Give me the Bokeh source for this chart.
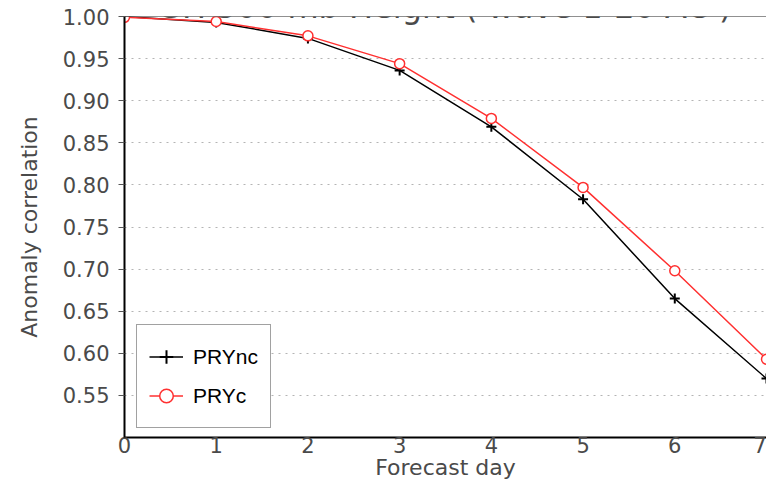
from bokeh.plotting import figure
from bokeh.models import (Range1d, FixedTicker, PrintfTickFormatter, Legend,
                          LegendItem, Label, Span)
from bokeh.embed import file_html
from bokeh.resources import INLINE

# Forecast skill, SH 500 mb height anomaly correlation
days = [0, 1, 2, 3, 4, 5, 6, 7]
pry_nc = [1.000, 0.993, 0.974, 0.936, 0.869, 0.783, 0.665, 0.570]
pry_c = [0.999, 0.994, 0.977, 0.944, 0.879, 0.797, 0.698, 0.593]

x_ticks = [0, 1, 2, 3, 4, 5, 6, 7]
y_ticks = [0.55, 0.60, 0.65, 0.70, 0.75, 0.80, 0.85, 0.90, 0.95, 1.00]
title_text = "SH 500 mb Height ( wave 1-20 AC )"

RED = "#ff3030"
TEXT = "#4a4a4a"
FONT = "DejaVu Sans"

p = figure(width=766, height=483, output_backend="svg", toolbar_location=None,
           x_range=Range1d(0, 7), y_range=Range1d(0.5, 1.0),
           min_border_left=124, min_border_right=0,
           min_border_top=16, min_border_bottom=46)
p.outline_line_color = None
p.background_fill_color = "white"
p.border_fill_color = "white"

# axes
xa = p.xaxis[0]
xa.ticker = FixedTicker(ticks=x_ticks)
xa.axis_line_color = "black"
xa.axis_line_width = 2
xa.major_tick_line_color = None
xa.minor_tick_line_color = None
xa.major_label_text_font = FONT
xa.major_label_text_font_size = "21px"
xa.major_label_text_color = TEXT
xa.major_label_standoff = -7
xa.axis_label = "Forecast day"
xa.axis_label_text_font = FONT
xa.axis_label_text_font_size = "22px"
xa.axis_label_text_font_style = "normal"
xa.axis_label_text_color = TEXT
xa.axis_label_standoff = -1

ya = p.yaxis[0]
ya.ticker = FixedTicker(ticks=y_ticks)
ya.formatter = PrintfTickFormatter(format="%.2f")
ya.axis_line_color = "black"
ya.axis_line_width = 2
ya.major_tick_line_color = "#555555"
ya.major_tick_in = 0
ya.major_tick_out = 6
ya.minor_tick_line_color = None
ya.major_label_text_font = FONT
ya.major_label_text_font_size = "21px"
ya.major_label_text_color = TEXT
ya.major_label_standoff = 9
ya.axis_label = "Anomaly correlation"
ya.axis_label_text_font = FONT
ya.axis_label_text_font_size = "22px"
ya.axis_label_text_font_style = "normal"
ya.axis_label_text_color = TEXT
ya.axis_label_standoff = 18

# grid
p.xgrid.visible = False
p.ygrid.ticker = FixedTicker(ticks=y_ticks)
p.ygrid.grid_line_color = "#b4b4b4"
p.ygrid.grid_line_dash = "2 5"
p.ygrid.grid_line_width = 1

# top frame line
p.add_layout(Span(location=1.0, dimension="width", line_color="#222222", line_width=1))

# series
nc_line = p.line(days, pry_nc, line_color="black", line_width=1.5)
nc_pts = p.scatter(days, pry_nc, marker="cross", size=10,
                   line_color="black", line_width=2)
c_line = p.line(days, pry_c, line_color=RED, line_width=1.5)
c_pts = p.scatter(days, pry_c, marker="circle", size=10,
                  line_color=RED, fill_color="white", line_width=1.5)

legend = Legend(items=[LegendItem(label="PRYnc", renderers=[nc_line, nc_pts]),
                       LegendItem(label="PRYc", renderers=[c_line, c_pts])],
                location=(12, 9), orientation="vertical")
legend.border_line_color = "#444444"
legend.border_line_width = 1
legend.background_fill_color = "white"
legend.background_fill_alpha = 1.0
legend.label_text_font = "Liberation Sans"
legend.label_text_font_size = "21px"
legend.label_text_color = "black"
legend.glyph_width = 34
legend.glyph_height = 39
legend.label_height = 39
legend.spacing = 0
legend.padding = 12
legend.label_standoff = 10
legend.margin = 0
p.add_layout(legend)

# title, running off the top edge of the canvas
p.add_layout(Label(x=322, y=431, x_units="screen", y_units="screen",
                   text=title_text, text_align="center",
                   text_baseline="alphabetic", text_font=FONT,
                   text_font_size="32px", text_color=TEXT))

open("out.html", "w").write(file_html(p, INLINE))
